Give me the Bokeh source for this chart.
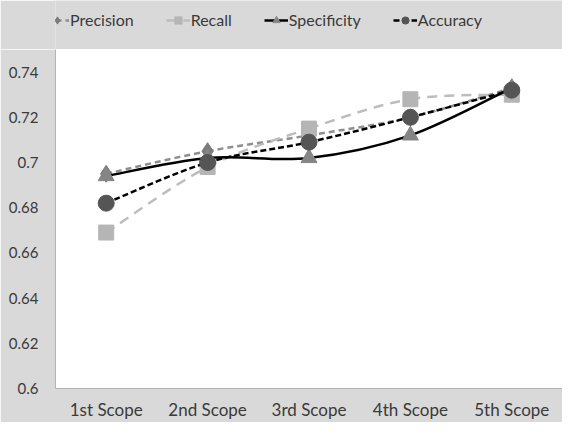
from bokeh.plotting import figure
from bokeh.layouts import column
from bokeh.models import Legend, LegendItem, FixedTicker, Range1d
from bokeh.embed import file_html
from bokeh.resources import INLINE

categories = ["1st Scope", "2nd Scope", "3rd Scope", "4th Scope", "5th Scope"]
precision = [0.695, 0.705, 0.712, 0.720, 0.733]
recall = [0.669, 0.698, 0.715, 0.728, 0.730]
specificity = [0.694, 0.702, 0.702, 0.712, 0.733]
accuracy = [0.682, 0.700, 0.709, 0.720, 0.732]
y_ticks = [0.6, 0.62, 0.64, 0.66, 0.68, 0.7, 0.72, 0.74]
y_tick_labels = ["0.6", "0.62", "0.64", "0.66", "0.68", "0.7", "0.72", "0.74"]

FONT = "Lato"
TEXT = "#3a3a3a"
BG = "#d9d9d9"
xs = list(range(1, len(categories) + 1))


def smooth(xv, yv):
    """Excel-like smoothed line: cubic Bezier segments (Catmull-Rom control points)."""
    n = len(xv)
    d = dict(x0=[], y0=[], x1=[], y1=[], cx0=[], cy0=[], cx1=[], cy1=[])
    for i in range(n - 1):
        xp, yp = (xv[i - 1], yv[i - 1]) if i > 0 else (xv[i], yv[i])
        xn, yn = (xv[i + 2], yv[i + 2]) if i + 2 < n else (xv[i + 1], yv[i + 1])
        d["x0"].append(xv[i]); d["y0"].append(yv[i])
        d["x1"].append(xv[i + 1]); d["y1"].append(yv[i + 1])
        d["cx0"].append(xv[i] + (xv[i + 1] - xp) / 6)
        d["cy0"].append(yv[i] + (yv[i + 1] - yp) / 6)
        d["cx1"].append(xv[i + 1] - (xn - xv[i]) / 6)
        d["cy1"].append(yv[i + 1] - (yn - yv[i]) / 6)
    return d


series = [
    ("Precision", precision, dict(line_color="#8f8f8f", line_dash="6 4", line_width=2.5),
     dict(marker="diamond", size=17, fill_color="#7b7b7b", line_color="#7b7b7b")),
    ("Recall", recall, dict(line_color="#bdbdbd", line_dash="10 7", line_width=2.5),
     dict(marker="square", size=15, fill_color="#b5b5b5", line_color="#b5b5b5")),
    ("Specificity", specificity, dict(line_color="black", line_width=2.5),
     dict(marker="triangle", size=16, fill_color="#858585", line_color="#858585")),
    ("Accuracy", accuracy, dict(line_color="black", line_dash="6 3", line_width=2.5),
     dict(marker="circle", size=16, fill_color="#555555", line_color="#555555")),
]

# ---- legend strip (separate figure above the chart) ----
lf = figure(width=562, height=49, output_backend="svg", toolbar_location=None,
            x_range=Range1d(0, 1), y_range=Range1d(0, 1),
            x_axis_type=None, y_axis_type=None,
            min_border_left=0, min_border_right=0, min_border_top=0, min_border_bottom=0)
lf.title.visible = False
lf.background_fill_color = BG
lf.border_fill_color = BG
lf.outline_line_color = None
lf.xgrid.visible = False
lf.ygrid.visible = False

# ---- main chart ----
p = figure(width=562, height=373, output_backend="svg", toolbar_location=None,
           x_range=Range1d(0.5, 5.5), y_range=Range1d(0.6, 0.75),
           min_border_left=55, min_border_right=0, min_border_top=0, min_border_bottom=28)
p.title.visible = False
p.background_fill_color = "white"
p.border_fill_color = BG
p.outline_line_color = None
p.xgrid.visible = False
p.ygrid.visible = False

items = []
for name, vals, lstyle, mstyle in series:
    p.bezier(source=smooth(xs, vals), x0="x0", y0="y0", x1="x1", y1="y1",
             cx0="cx0", cy0="cy0", cx1="cx1", cy1="cy1", **lstyle)
    p.scatter(x=xs, y=vals, **mstyle)
    # legend-only renderers, placed outside the legend strip's visible range
    leg_line = lf.line(x=[5, 6], y=[5, 5], **lstyle)
    leg_mark = lf.scatter(x=[5], y=[5], **mstyle)
    items.append(LegendItem(label=name, renderers=[leg_line, leg_mark]))

legend = Legend(items=items, orientation="horizontal", location=(-10, 20),
                glyph_width=24, glyph_height=18, label_standoff=1, spacing=32,
                padding=3, margin=0, border_line_color=None, background_fill_alpha=0,
                label_text_font=FONT, label_text_font_size="16px", label_text_color=TEXT)
lf.add_layout(legend, "center")

p.xaxis.ticker = FixedTicker(ticks=xs)
p.xaxis.major_label_overrides = {x: c for x, c in zip(xs, categories)}
p.yaxis.ticker = FixedTicker(ticks=y_ticks)
p.yaxis.major_label_overrides = {t: l for t, l in zip(y_ticks, y_tick_labels)}
for ax in (p.xaxis, p.yaxis):
    ax.major_tick_line_color = None
    ax.minor_tick_line_color = None
    ax.major_tick_out = 0
    ax.major_tick_in = 0
    ax.axis_line_color = "#b3b3b3"
    ax.major_label_text_font = FONT
    ax.major_label_text_color = TEXT
p.yaxis.major_label_text_font_size = "15px"
p.xaxis.major_label_text_font_size = "17px"
p.yaxis.major_label_standoff = 17
p.xaxis.major_label_standoff = 10

layout = column(lf, p, spacing=0)
open("out.html", "w").write(file_html(layout, INLINE))
